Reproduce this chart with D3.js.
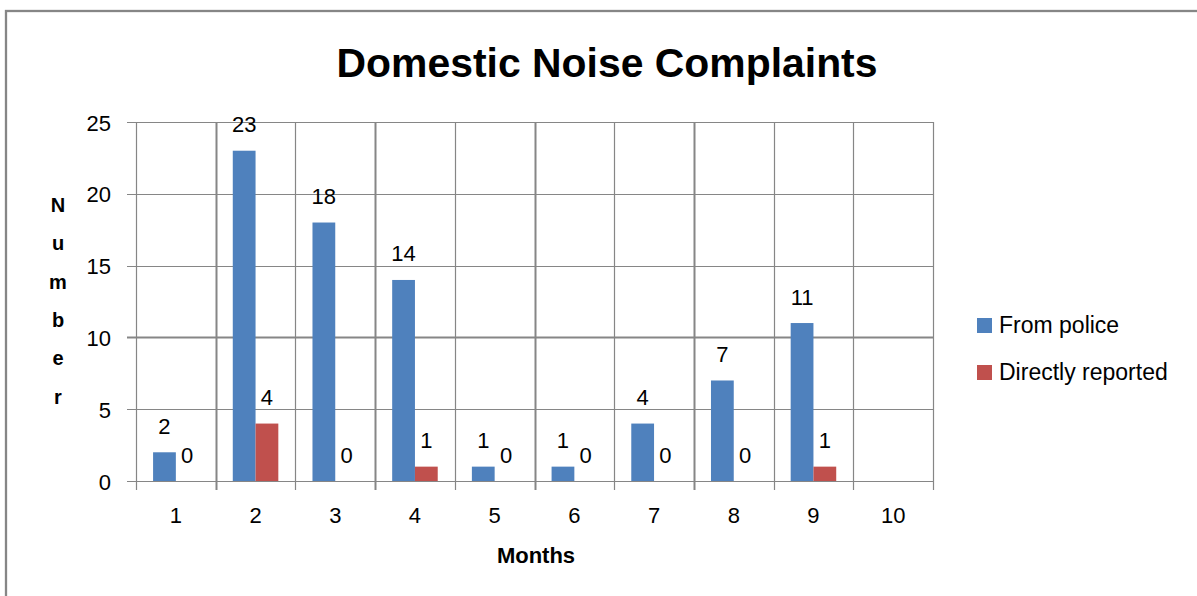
<!DOCTYPE html>
<html>
<head>
<meta charset="utf-8">
<script src="https://cdn.jsdelivr.net/npm/d3@7"></script>
<style>
  html, body { margin: 0; padding: 0; background: #fff; }
  svg { display: block; }
</style>
</head>
<body>
<div id="chart"></div>
<script>
// Chart data
const months = ["1", "2", "3", "4", "5", "6", "7", "8", "9", "10"];
const seriesNames = ["From police", "Directly reported"];
const fromPolice = [2, 23, 18, 14, 1, 1, 4, 7, 11, null];
const directlyReported = [0, 4, 0, 1, 0, 0, 0, 0, 1, null];
const yTicks = [0, 5, 10, 15, 20, 25];
const colors = ["#4F81BD", "#C0504D"];

const width = 1197, height = 596;
const plot = { left: 136, right: 933, top: 122, bottom: 481 };
const numFont = "'Liberation Sans', Arial, sans-serif";
const gridColor = "#868686";

const svg = d3.select("#chart").append("svg")
    .attr("width", width)
    .attr("height", height);

// Chart area border (runs off the right and bottom edges)
svg.append("rect")
    .attr("x", 6).attr("y", 11)
    .attr("width", width + 20).attr("height", height + 20)
    .attr("fill", "#fff")
    .attr("stroke", gridColor)
    .attr("stroke-width", 2.3);

// Title
svg.append("text")
    .attr("x", 607).attr("y", 77)
    .attr("text-anchor", "middle")
    .attr("font-family", numFont)
    .attr("font-weight", "bold")
    .attr("font-size", 40)
    .attr("textLength", 541)
    .attr("lengthAdjust", "spacingAndGlyphs")
    .text("Domestic Noise Complaints");

// Scales
const x0 = d3.scaleBand().domain(months).range([plot.left, plot.right]).padding(0);
const x1 = d3.scaleBand().domain(seriesNames).range([0, x0.bandwidth()])
    .paddingInner(0).paddingOuter(0.75);
const y = d3.scaleLinear().domain([0, 25]).range([plot.bottom, plot.top]);

/*----------------------
GRID
----------------------*/
const grid = svg.append("g").attr("stroke", gridColor);

// horizontal gridlines + left ticks
grid.selectAll("line.h")
    .data(yTicks)
    .join("line")
    .attr("class", "h")
    .attr("x1", plot.left - 9).attr("x2", plot.right)
    .attr("y1", d => Math.round(y(d)) + 0.5).attr("y2", d => Math.round(y(d)) + 0.5)
    .attr("stroke-width", d => d === 10 ? 2 : 1.2);

// vertical gridlines at category boundaries, extended down as ticks
const bounds = months.map(m => x0(m)).concat([plot.right]);
grid.selectAll("line.v")
    .data(bounds)
    .join("line")
    .attr("class", "v")
    .attr("x1", d => Math.round(d) + 0.5).attr("x2", d => Math.round(d) + 0.5)
    .attr("y1", plot.top).attr("y2", plot.bottom + 9)
    .attr("stroke-width", (d, i) => (i % 2 === 1 && i < 9) ? 2 : 1.2);

// Y tick labels
svg.append("g")
    .selectAll("text")
    .data(yTicks)
    .join("text")
    .attr("x", 111)
    .attr("y", d => y(d) + 8.5)
    .attr("text-anchor", "end")
    .attr("font-family", numFont)
    .attr("font-size", 22)
    .text(d => d);

// X tick labels
svg.append("g")
    .selectAll("text")
    .data(months)
    .join("text")
    .attr("x", d => x0(d) + x0.bandwidth() / 2)
    .attr("y", 523)
    .attr("text-anchor", "middle")
    .attr("font-family", numFont)
    .attr("font-size", 22)
    .text(d => d);

// Axis titles
svg.append("text")
    .attr("x", 536).attr("y", 563)
    .attr("text-anchor", "middle")
    .attr("font-family", numFont)
    .attr("font-weight", "bold")
    .attr("font-size", 22)
    .text("Months");

svg.append("g")
    .selectAll("text")
    .data("Number".split(""))
    .join("text")
    .attr("x", 58)
    .attr("y", (d, i) => 212 + i * 38.3)
    .attr("text-anchor", "middle")
    .attr("font-family", numFont)
    .attr("font-weight", "bold")
    .attr("font-size", 20)
    .text(d => d);

/*----------------------
BARS
----------------------*/
const rows = months.map((m, i) => ({
    month: m,
    values: [
        { series: seriesNames[0], value: fromPolice[i], color: colors[0] },
        { series: seriesNames[1], value: directlyReported[i], color: colors[1] }
    ].filter(v => v.value !== null)
}));

const groups = svg.append("g")
    .selectAll("g")
    .data(rows)
    .join("g")
    .attr("transform", d => `translate(${x0(d.month)},0)`);

groups.selectAll("rect")
    .data(d => d.values)
    .join("rect")
    .attr("x", d => x1(d.series))
    .attr("width", x1.bandwidth())
    .attr("y", d => y(d.value))
    .attr("height", d => y(0) - y(d.value))
    .attr("fill", d => d.color);

groups.selectAll("text")
    .data(d => d.values)
    .join("text")
    .attr("x", d => x1(d.series) + x1.bandwidth() / 2)
    .attr("y", d => y(d.value) - 18.5)
    .attr("text-anchor", "middle")
    .attr("font-family", numFont)
    .attr("font-size", 22)
    .text(d => d.value);

/*----------------------
LEGEND
----------------------*/
const legend = svg.append("g")
    .selectAll("g")
    .data(seriesNames)
    .join("g")
    .attr("transform", (d, i) => `translate(977,${318 + i * 47})`);

legend.append("rect")
    .attr("width", 15).attr("height", 15)
    .attr("fill", (d, i) => colors[i]);

legend.append("text")
    .attr("x", 22).attr("y", 15)
    .attr("font-family", numFont)
    .attr("font-size", 23)
    .text(d => d);
</script>
</body>
</html>
